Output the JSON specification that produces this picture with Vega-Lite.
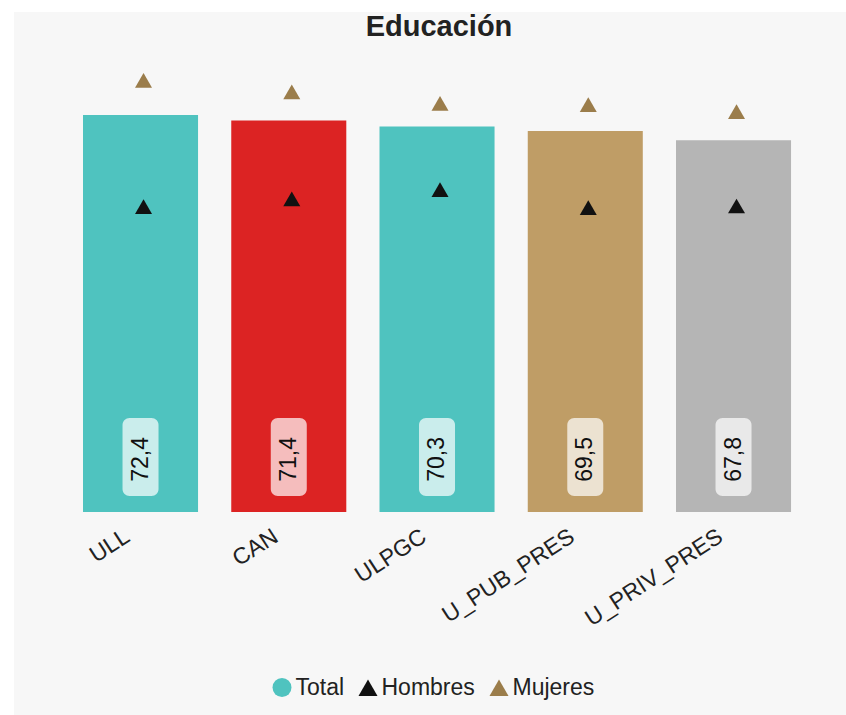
{
  "$schema": "https://vega.github.io/schema/vega-lite/v6.json",
  "width": 832,
  "height": 703,
  "autosize": {"type": "none"},
  "padding": {"left": 14, "top": 12, "right": 0, "bottom": 0},
  "background": "white",
  "title": {
    "text": "Educación",
    "fontSize": 29,
    "fontWeight": "bold",
    "color": "#222222",
    "font": "Liberation Sans",
    "anchor": "middle",
    "baseline": "alphabetic",
    "offset": -53,
    "dx": 9
  },
  "config": {
    "view": {"fill": "#f7f7f7", "stroke": null},
    "font": "Liberation Sans",
    "locale": {
      "number": {"decimal": ",", "thousands": ".", "grouping": [3], "currency": ["", " €"]}
    }
  },
  "data": {
    "values": [
      {"Universidad": "ULL", "Total": 72.4, "Hombres": 55.7, "Mujeres": 78.7},
      {"Universidad": "CAN", "Total": 71.4, "Hombres": 57.1, "Mujeres": 76.6},
      {"Universidad": "ULPGC", "Total": 70.3, "Hombres": 58.8, "Mujeres": 74.5},
      {"Universidad": "U_PUB_PRES", "Total": 69.5, "Hombres": 55.5, "Mujeres": 74.3},
      {"Universidad": "U_PRIV_PRES", "Total": 67.8, "Hombres": 55.8, "Mujeres": 73.0}
    ]
  },
  "encoding": {
    "x": {
      "field": "Universidad",
      "type": "nominal",
      "sort": null,
      "scale": {"range": [52.4, 793.65], "paddingInner": 0.224, "paddingOuter": 0.112},
      "axis": {
        "orient": "bottom",
        "offset": -203,
        "title": null,
        "domain": false,
        "ticks": false,
        "labelAngle": -33,
        "labelAlign": "right",
        "labelBaseline": "middle",
        "labelFontSize": 23,
        "labelColor": "#222222",
        "labelFont": "Liberation Sans",
        "labelPadding": 22,
        "labelOffset": -13
      }
    }
  },
  "layer": [
    {
      "mark": {"type": "bar"},
      "encoding": {
        "y": {
          "field": "Total",
          "type": "quantitative",
          "scale": {"domain": [-37.02, 91.18], "nice": false, "zero": false},
          "axis": null
        },
        "y2": {"datum": 0},
        "fill": {
          "field": "Universidad",
          "type": "nominal",
          "scale": {
            "domain": ["ULL", "CAN", "ULPGC", "U_PUB_PRES", "U_PRIV_PRES"],
            "range": ["#4fc3bf", "#dc2323", "#4fc3bf", "#bf9d66", "#b5b5b5"]
          },
          "legend": null
        }
      }
    },
    {
      "mark": {"type": "bar", "size": 36, "cornerRadius": 7, "fill": "white", "fillOpacity": 0.7},
      "encoding": {
        "y": {"datum": 2.92, "type": "quantitative"},
        "y2": {"datum": 17.14}
      }
    },
    {
      "mark": {"type": "text", "angle": 270, "align": "center", "baseline": "middle", "fontSize": 23, "color": "#111111", "font": "Liberation Sans"},
      "encoding": {
        "y": {"datum": 9.6, "type": "quantitative"},
        "text": {"field": "Total", "type": "quantitative", "format": ".1f"}
      }
    },
    {
      "transform": [{"fold": ["Hombres", "Mujeres"], "as": ["Serie", "Valor"]}],
      "mark": {"type": "point", "filled": true, "opacity": 1, "size": 289, "xOffset": 3},
      "encoding": {
        "y": {"field": "Valor", "type": "quantitative"},
        "color": {
          "field": "Serie",
          "type": "nominal",
          "scale": {"domain": ["Total", "Hombres", "Mujeres"], "range": ["#4fc3bf", "#111111", "#9b7d4b"]},
          "legend": {
            "title": null,
            "orient": "none",
            "direction": "horizontal",
            "legendX": 256.5,
            "legendY": 664,
            "symbolSize": 361,
            "symbolOpacity": 1,
            "labelFontSize": 23,
            "labelColor": "#222222",
            "labelFont": "Liberation Sans",
            "labelOffset": 2,
            "columnPadding": 11
          }
        },
        "shape": {
          "field": "Serie",
          "type": "nominal",
          "scale": {"domain": ["Total", "Hombres", "Mujeres"], "range": ["circle", "triangle-up", "triangle-up"]},
          "legend": {
            "title": null,
            "orient": "none",
            "direction": "horizontal",
            "legendX": 256.5,
            "legendY": 664,
            "symbolSize": 361,
            "symbolOpacity": 1,
            "labelFontSize": 23,
            "labelColor": "#222222",
            "labelFont": "Liberation Sans",
            "labelOffset": 2,
            "columnPadding": 11
          }
        }
      }
    }
  ]
}
